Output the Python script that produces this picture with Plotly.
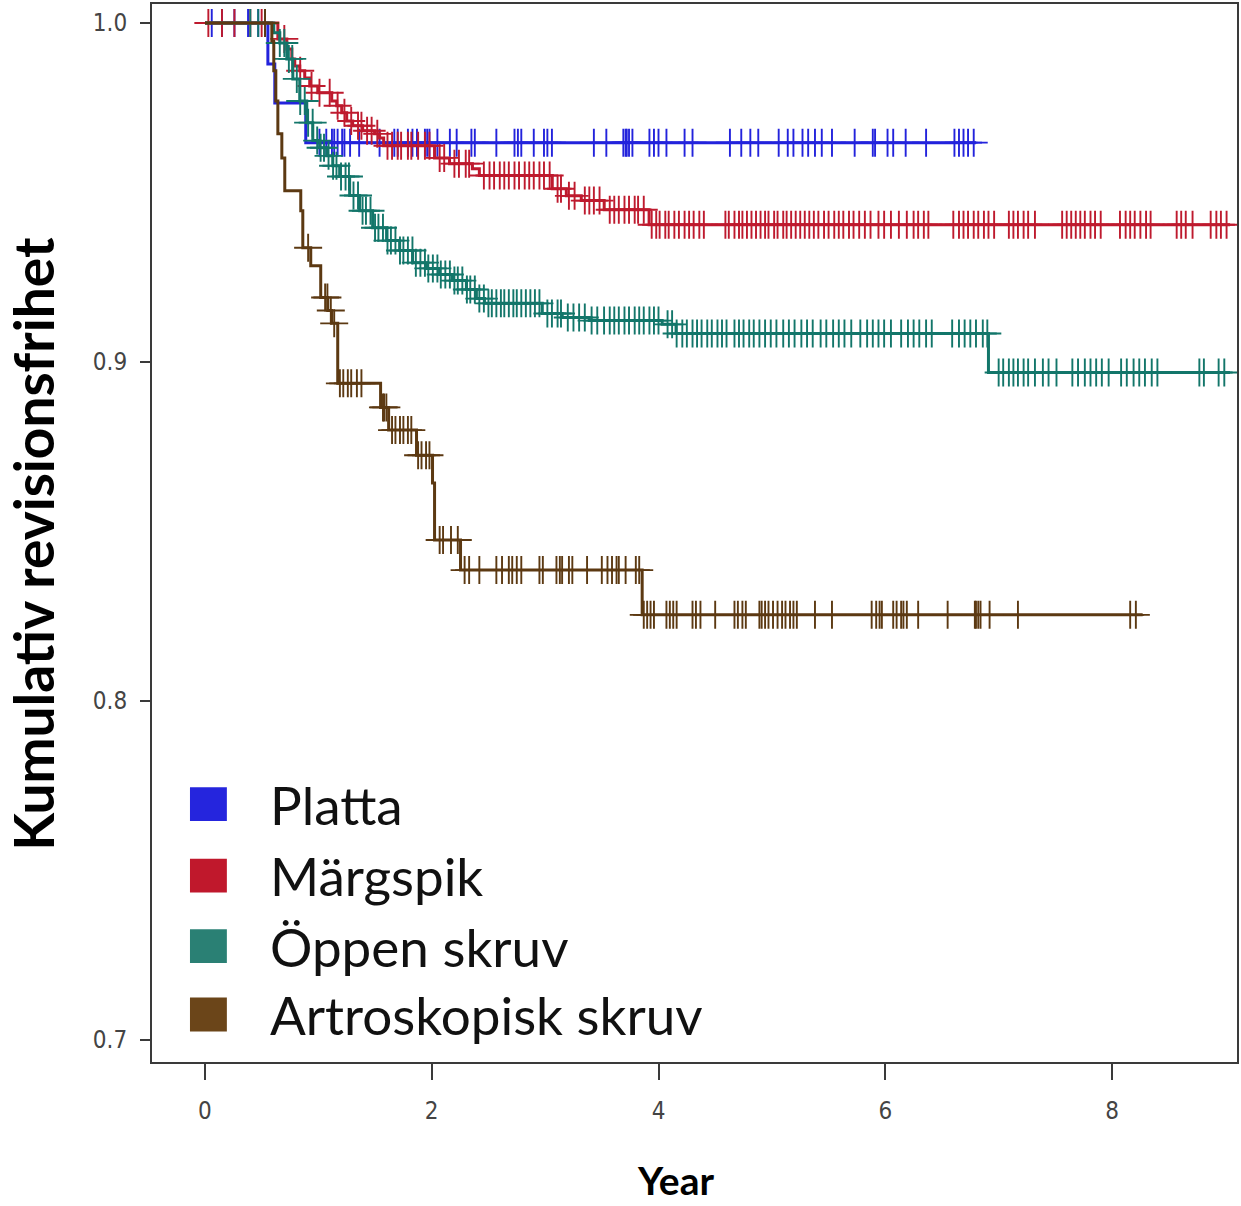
import numpy as np
import plotly.graph_objects as go

# ---------------- data ----------------
groups = ["Platta", "Märgspik", "Öppen skruv", "Artroskopisk skruv"]

# Kaplan-Meier event times (years) and survival after each event
platta_t = [0.555, 0.616, 0.889]
platta_s = [0.9879, 0.9764, 0.9647]
platta_end = 6.80

margspik_t = [0.643, 0.722, 0.766, 0.792, 0.836, 0.880, 0.924, 0.995, 1.118, 1.162,
              1.206, 1.250, 1.303, 1.391, 1.496, 1.540, 1.576, 2.025, 2.157, 2.359,
              2.420, 3.063, 3.187, 3.319, 3.521, 3.917]
margspik_s = [0.9953, 0.9923, 0.9894, 0.9873, 0.9859, 0.9838, 0.9814, 0.9794, 0.9770, 0.9756,
              0.9735, 0.9711, 0.9697, 0.9682, 0.9673, 0.9661, 0.9638, 0.9602, 0.9585, 0.9570,
              0.9550, 0.9511, 0.9490, 0.9476, 0.9449, 0.9405]
margspik_end = 9.04

oppen_t = [0.607, 0.660, 0.722, 0.775, 0.836, 0.898, 0.951, 1.012, 1.074, 1.127,
           1.188, 1.276, 1.364, 1.479, 1.602, 1.717, 1.831, 1.954, 2.069, 2.183,
           2.306, 2.394, 2.465, 2.975, 3.151, 3.389, 4.032, 4.155, 6.910]
oppen_s = [0.9971, 0.9941, 0.9894, 0.9835, 0.9770, 0.9706, 0.9653, 0.9632, 0.9608, 0.9579,
           0.9547, 0.9491, 0.9446, 0.9396, 0.9358, 0.9329, 0.9293, 0.9276, 0.9258, 0.9240,
           0.9214, 0.9187, 0.9173, 0.9143, 0.9131, 0.9122, 0.9111, 0.9084, 0.8969]
oppen_end = 9.04

artro_t = [0.590, 0.607, 0.625, 0.643, 0.678, 0.704, 0.845, 0.863, 0.933, 1.021,
           1.083, 1.118, 1.171, 1.549, 1.620, 1.866, 2.007, 2.025, 2.254, 3.856]
artro_s = [0.9947, 0.9859, 0.9770, 0.9673, 0.9602, 0.9505, 0.9446, 0.9337, 0.9284, 0.9190,
           0.9152, 0.9114, 0.8937, 0.8866, 0.8799, 0.8725, 0.8643, 0.8475, 0.8386, 0.8254]
artro_end = 8.27

# censoring times (years)
platta_cens = [0.06, 0.15, 0.26, 0.38, 0.47,
               1.01, 1.07, 1.12, 1.14, 1.17, 1.21, 1.23, 1.28, 1.36, 1.54, 1.67, 1.70, 1.79,
               1.83, 1.87, 1.94, 1.96, 1.98, 2.05, 2.16, 2.22, 2.35, 2.38, 2.57, 2.73, 2.76,
               2.79, 2.90, 2.99, 3.02, 3.06, 3.43, 3.54, 3.69, 3.71, 3.72, 3.74, 3.77, 3.92,
               3.96, 4.00, 4.07, 4.23, 4.30, 4.63, 4.73, 4.81, 4.88, 5.06, 5.14, 5.19, 5.27,
               5.32, 5.38, 5.44, 5.53, 5.73, 5.89, 5.91, 6.02, 6.07, 6.18, 6.36, 6.61, 6.65,
               6.69, 6.73, 6.78]

margspik_cens = [0.03, 0.15, 0.26, 0.40, 0.50,
                 0.70, 0.84, 0.94, 1.01, 1.10, 1.17, 1.23, 1.29, 1.35, 1.38, 1.43, 1.47, 1.52,
                 1.61, 1.65, 1.70, 1.73, 1.79, 1.82, 1.88, 1.94, 1.98, 2.07, 2.11, 2.20, 2.24,
                 2.30, 2.33, 2.46, 2.51, 2.55, 2.60, 2.64, 2.68, 2.73, 2.77, 2.82, 2.86, 2.90,
                 2.95, 2.99, 3.04, 3.11, 3.14, 3.21, 3.26, 3.35, 3.39, 3.43, 3.48, 3.57, 3.61,
                 3.65, 3.70, 3.74, 3.79, 3.82, 3.87,
                 3.94, 3.98, 4.01, 4.06, 4.09, 4.14, 4.18, 4.23, 4.27, 4.31, 4.36, 4.40,
                 4.59, 4.62, 4.67, 4.71, 4.74, 4.78, 4.82, 4.86, 4.90, 4.94, 4.97, 5.02, 5.05,
                 5.10, 5.13, 5.17, 5.21, 5.25, 5.29, 5.33, 5.37, 5.41, 5.46, 5.50, 5.55, 5.59,
                 5.63, 5.68, 5.72, 5.77, 5.82, 5.87, 5.94, 5.99, 6.05, 6.12, 6.19, 6.25, 6.29,
                 6.34, 6.38, 6.60, 6.65, 6.69, 6.73, 6.78, 6.82, 6.87, 6.91, 6.96, 7.09, 7.13,
                 7.17, 7.22, 7.26, 7.32, 7.56, 7.60, 7.64, 7.68, 7.72, 7.76, 7.81, 7.85, 7.90,
                 8.07, 8.12, 8.16, 8.20, 8.25, 8.30, 8.34, 8.57, 8.61, 8.65, 8.71, 8.87, 8.92,
                 8.96, 9.01]

oppen_cens = [0.40, 0.47, 0.53,
              0.66, 0.70, 0.74, 0.77, 0.81, 0.84, 0.88, 0.91, 0.95, 0.99, 1.02, 1.05, 1.09,
              1.13, 1.16, 1.20, 1.24, 1.27, 1.31, 1.35, 1.39, 1.42, 1.46, 1.50, 1.53, 1.57,
              1.61, 1.64, 1.68, 1.72, 1.75, 1.79, 1.83, 1.86, 1.90, 1.94, 1.97, 2.01, 2.05,
              2.08, 2.12, 2.16, 2.20, 2.23, 2.27, 2.31, 2.34, 2.38, 2.42, 2.46, 2.50, 2.53,
              2.57, 2.61, 2.64, 2.68, 2.72, 2.75, 2.79, 2.83, 2.87, 2.91, 2.95,
              3.02, 3.06, 3.11, 3.14, 3.20, 3.25, 3.30, 3.35, 3.41, 3.46,
              3.52, 3.57, 3.61, 3.65, 3.70, 3.74, 3.79, 3.83, 3.87, 3.92, 3.96, 4.00,
              4.08, 4.12, 4.16, 4.21, 4.25, 4.30, 4.34, 4.38, 4.43, 4.47, 4.52, 4.56, 4.60,
              4.67, 4.71, 4.75, 4.80, 4.84, 4.89, 4.94, 4.99, 5.04, 5.10, 5.15, 5.20, 5.26,
              5.31, 5.36, 5.43, 5.48, 5.54, 5.59, 5.64, 5.70, 5.78, 5.84, 5.89, 5.94, 5.99,
              6.05, 6.14, 6.20, 6.25, 6.30, 6.36, 6.41, 6.59, 6.65, 6.70, 6.75, 6.80, 6.86,
              6.90, 7.00, 7.04, 7.09, 7.13, 7.17, 7.22, 7.26, 7.32, 7.39, 7.44, 7.51, 7.65,
              7.70, 7.76, 7.81, 7.86, 7.91, 7.97, 8.08, 8.13, 8.19, 8.24, 8.29, 8.35, 8.40,
              8.77, 8.81, 8.94, 8.99]

artro_cens = [0.53, 0.91, 1.06, 1.08, 1.11, 1.14,
              1.19, 1.22, 1.26, 1.29, 1.34, 1.38, 1.57, 1.58, 1.60,
              1.65, 1.68, 1.72, 1.75, 1.79, 1.82, 1.88, 1.91, 1.95, 1.98,
              2.07, 2.10, 2.17, 2.23, 2.29, 2.33, 2.42, 2.57, 2.62, 2.68, 2.71, 2.75, 2.79,
              2.95, 2.98, 3.10, 3.13, 3.15, 3.21, 3.24, 3.37, 3.50, 3.55, 3.59, 3.63, 3.65,
              3.71, 3.80, 3.83, 3.87, 3.90, 3.93, 3.96, 4.07, 4.10, 4.13, 4.16, 4.30, 4.33,
              4.37, 4.50, 4.67, 4.70, 4.74, 4.77, 4.89, 4.91, 4.94, 4.97, 5.01, 5.05, 5.09,
              5.12, 5.16, 5.19, 5.22, 5.38, 5.53, 5.88, 5.92, 5.95, 5.97, 6.07, 6.10, 6.14,
              6.16, 6.19, 6.29, 6.55, 6.79, 6.80, 6.82, 6.84, 6.92, 7.17, 8.16, 8.21]

y_ticks = [0.7, 0.8, 0.9, 1.0]
y_tick_labels = ["0.7", "0.8", "0.9", "1.0"]
x_ticks = [0, 2, 4, 6, 8]

line_colors = ["#2323DC", "#BE1A2E", "#13766A", "#5C3912"]
legend_colors = ["#2525DD", "#C0182C", "#2A8074", "#6B4519"]

series = [
    (platta_t, platta_s, platta_end, platta_cens),
    (margspik_t, margspik_s, margspik_end, margspik_cens),
    (oppen_t, oppen_s, oppen_end, oppen_cens),
    (artro_t, artro_s, artro_end, artro_cens),
]


def km_value(times, surv, t):
    idx = np.searchsorted(np.array(times), np.array(t), side="right") - 1
    s = np.array([1.0] + list(surv))
    return s[idx + 1]


fig = go.Figure()
for name, (tt, ss, tend, cens), lc in zip(groups, series, line_colors):
    x = [0.0] + list(tt) + [tend]
    y = [1.0] + list(ss) + [ss[-1]]
    fig.add_trace(go.Scatter(x=x, y=y, mode="lines", line=dict(color=lc, width=3, shape="hv"),
                             name=name, showlegend=False, hoverinfo="skip"))
    cy = km_value(tt, ss, cens)
    fig.add_trace(go.Scatter(x=cens, y=cy, mode="markers",
                             marker=dict(symbol="cross-thin", size=20, color=lc,
                                         line=dict(color=lc, width=1.9)),
                             showlegend=False, hoverinfo="skip"))

# legend drawn as squares + text inside the plot area
legend_y = [0.2437, 0.1761, 0.1095, 0.0449]
for name, col, yc in zip(groups, legend_colors, legend_y):
    fig.add_shape(type="rect", xref="paper", yref="paper",
                  x0=0.035, x1=0.069, y0=yc - 0.0160, y1=yc + 0.0160,
                  fillcolor=col, line=dict(width=0))
    fig.add_annotation(x=0.1067, y=yc, xref="paper", yref="paper", text=name,
                       showarrow=False, xanchor="left", yanchor="middle",
                       font=dict(family="Lato", size=53, color="#111111"))

fig.add_annotation(x=-0.1104, y=0.490, xref="paper", yref="paper",
                   text="<b>Kumulativ revisionsfrihet</b>", textangle=-90,
                   showarrow=False, xanchor="center", yanchor="middle",
                   font=dict(family="Lato", size=55, color="#000000"))
fig.add_annotation(x=0.4821, y=-0.1115, xref="paper", yref="paper",
                   text="<b>Year</b>", showarrow=False, xanchor="center", yanchor="middle",
                   font=dict(family="Lato", size=39, color="#000000"))

tickfont = dict(family="Liberation Sans Narrow, DejaVu Sans Condensed, Arial Narrow, sans-serif",
                size=24, color="#444444")

fig.update_layout(
    width=1241, height=1206,
    margin=dict(l=152, r=2, t=3, b=144),
    paper_bgcolor="white", plot_bgcolor="white",
    xaxis=dict(range=[-0.467, 9.102], tickvals=x_ticks, ticktext=[str(v) for v in x_ticks],
               showgrid=False, zeroline=False, showline=True, mirror=True,
               linecolor="#3a3a3a", linewidth=2, ticks="outside", ticklen=16, tickwidth=2,
               tickcolor="#3a3a3a", tickfont=tickfont, ticklabelstandoff=10),
    yaxis=dict(range=[0.6935, 1.0056], tickvals=y_ticks, ticktext=y_tick_labels,
               showgrid=False, zeroline=False, showline=True, mirror=True,
               linecolor="#3a3a3a", linewidth=2, ticks="outside", ticklen=10, tickwidth=2,
               tickcolor="#3a3a3a", tickfont=tickfont, ticklabelstandoff=8),
)

fig.write_html("out.html", config={"displayModeBar": False},
               post_script="document.body.style.margin='0';document.body.style.padding='0';")
